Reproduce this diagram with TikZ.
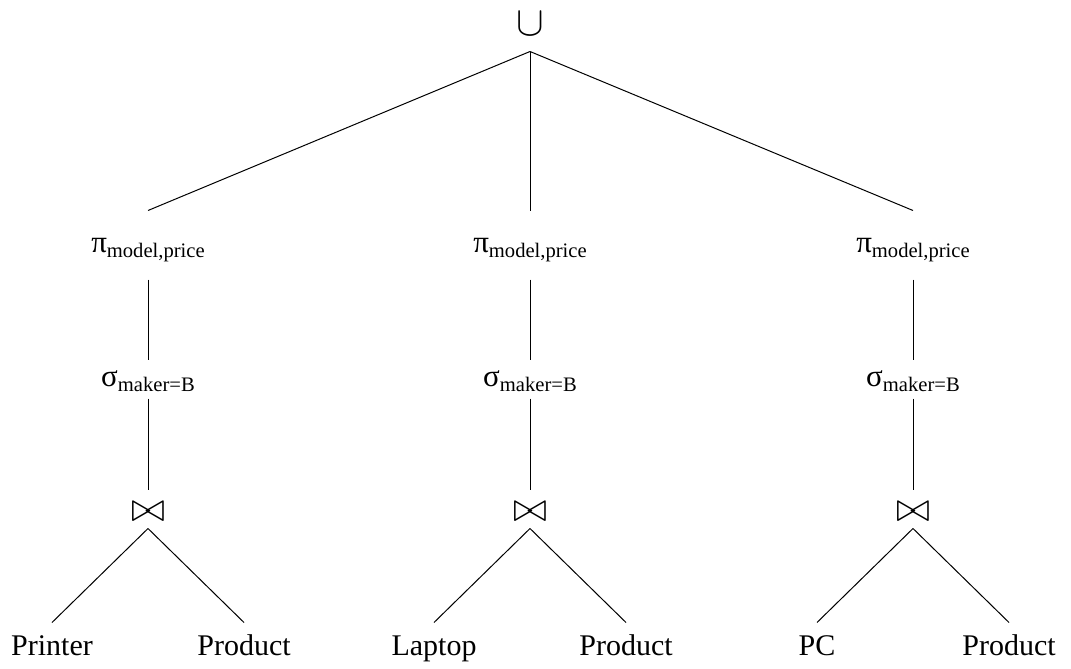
\documentclass[tikz,border=0pt]{standalone}
\usepackage{fontspec}
\setmainfont{Liberation Serif}
\newcommand{\opsub}[2]{{\fontsize{15.5}{15.5}\selectfont #1}\raisebox{-2.5pt}{\fontsize{10.3}{10.3}\selectfont #2}}
\tikzset{
  opnode/.style={inner sep=0pt,anchor=base},
  proj/.style={opnode,text height=20.5pt,text depth=13.5pt},
  sel/.style={opnode,text height=13pt,text depth=6pt},
  joinop/.style={opnode,text height=15.5pt,text depth=3.5pt,font=\fontsize{21}{21}\selectfont},
  leaf/.style={opnode,text height=16pt,text depth=2pt,font=\fontsize{15}{15}\selectfont}
}
\begin{document}
\begin{tikzpicture}[x=.5pt,y=-.5pt,line width=.5pt]
  \useasboundingbox (0,0) rectangle (1071,669);
  \node[opnode,text height=10pt,text depth=8pt,font=\fontsize{21.5}{21.5}\selectfont] (root) at (530,35) {$\cup$};
  \foreach \x/\l/\r [count=\i] in {148/Printer/Product,530/Laptop/Product,913/PC/Product}{
    \node[proj] (pi\i) at (\x,252) {\opsub{π}{model,price}};
    \node[sel] (sig\i) at (\x,386) {\opsub{σ}{maker=B}};
    \node[joinop] (jn\i) at (\x,521) {$\bowtie$};
    \node[leaf] (l\i) at (\x-96,655) {\l};
    \node[leaf] (r\i) at (\x+96,655) {\r};
    \draw (root.south) -- (pi\i.north);
    \draw (pi\i.south) -- (sig\i.north);
    \draw (sig\i.south) -- (jn\i.north);
    \draw (jn\i.south) -- (l\i.north);
    \draw (jn\i.south) -- (r\i.north);
  }
\end{tikzpicture}
\end{document}
